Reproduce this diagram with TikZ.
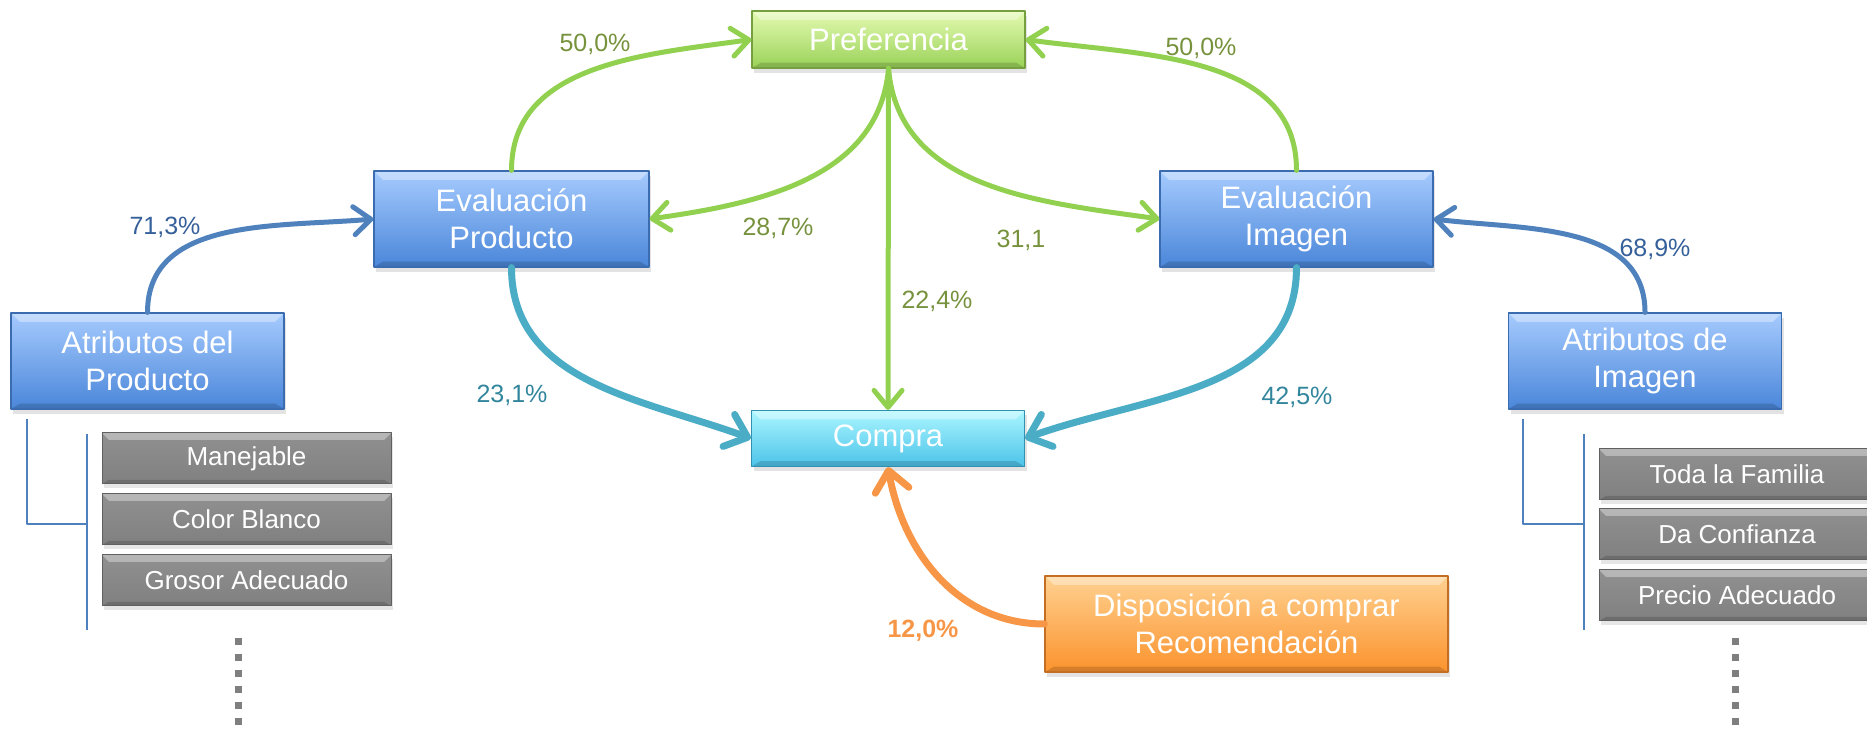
\documentclass[tikz,border=0pt]{standalone}
\usepackage{fontspec}
\setmainfont{Liberation Sans}
\usetikzlibrary{arrows.meta,shadows}
\definecolor{MapaBlueTop}{HTML}{A6CBFE}
\definecolor{MapaBlueBot}{HTML}{4A86D9}
\definecolor{MapaBlueEdge}{HTML}{3C6CB0}
\definecolor{MapaGreenTop}{HTML}{E4FAB2}
\definecolor{MapaGreenBot}{HTML}{9AD258}
\definecolor{MapaGreenEdge}{HTML}{76A040}
\definecolor{MapaCyanTop}{HTML}{ABF6FF}
\definecolor{MapaCyanBot}{HTML}{4CC3E9}
\definecolor{MapaCyanEdge}{HTML}{3090B0}
\definecolor{MapaOrangeTop}{HTML}{FFD190}
\definecolor{MapaOrangeBot}{HTML}{FB932E}
\definecolor{MapaOrangeEdge}{HTML}{C46E24}
\definecolor{MapaGrayTop}{HTML}{909090}
\definecolor{MapaGrayBot}{HTML}{808080}
\definecolor{MapaGrayEdge}{HTML}{606060}
\definecolor{MapaLineGreen}{HTML}{92D050}
\definecolor{MapaLineBlue}{HTML}{4F81BD}
\definecolor{MapaLineTeal}{HTML}{4BACC6}
\definecolor{MapaLineOrange}{HTML}{F79646}
\definecolor{MapaTextGreen}{HTML}{76923C}
\definecolor{MapaTextBlue}{HTML}{35609A}
\definecolor{MapaTextTeal}{HTML}{31859C}
\definecolor{MapaDots}{HTML}{7F7F7F}
\tikzset{
    mapa/diagram/.style={x=1pt, y=1pt, line join=round},
    mapa/bevel/.style={
        path picture={
            \fill[white, opacity=0.35]
                (path picture bounding box.north west) -- (path picture bounding box.north east)
                -- ([xshift=-#1, yshift=-#1]path picture bounding box.north east)
                -- ([xshift=#1, yshift=-#1]path picture bounding box.north west) -- cycle;
            \fill[black, opacity=0.15]
                (path picture bounding box.south west) -- (path picture bounding box.south east)
                -- ([xshift=-#1, yshift=0.6*#1]path picture bounding box.south east)
                -- ([xshift=#1, yshift=0.6*#1]path picture bounding box.south west) -- cycle;
        }
    },
    mapa/box/.style={
        rectangle, align=center, text=white, inner sep=0pt,
        font=\fontsize{31}{37}\selectfont,
        minimum width=273pt, minimum height=96pt, line width=1.2pt,
        drop shadow={opacity=0.22, shadow xshift=2pt, shadow yshift=-5pt},
        mapa/bevel=9pt
    },
    mapa/blue box/.style={mapa/box, top color=MapaBlueTop, bottom color=MapaBlueBot, draw=MapaBlueEdge},
    mapa/green box/.style={mapa/box, top color=MapaGreenTop, bottom color=MapaGreenBot, draw=MapaGreenEdge},
    mapa/cyan box/.style={mapa/box, top color=MapaCyanTop, bottom color=MapaCyanBot, draw=MapaCyanEdge},
    mapa/orange box/.style={mapa/box, top color=MapaOrangeTop, bottom color=MapaOrangeBot, draw=MapaOrangeEdge},
    mapa/item/.style={
        rectangle, text=white, inner sep=0pt,
        font=\fontsize{26}{31}\selectfont,
        minimum width=289pt, minimum height=51pt, line width=1pt,
        top color=MapaGrayTop, bottom color=MapaGrayBot, draw=MapaGrayEdge,
        drop shadow={opacity=0.2, shadow xshift=2pt, shadow yshift=-4pt},
        mapa/bevel=7pt
    },
    mapa/link/.style={line cap=round, -{Straight Barb[length=17pt, width=28pt, round]}},
    mapa/green/.style={mapa/link, draw=MapaLineGreen, line width=5pt},
    mapa/blue/.style={mapa/link, draw=MapaLineBlue, line width=5pt},
    mapa/teal/.style={mapa/link, draw=MapaLineTeal, line width=7pt,
        -{Straight Barb[length=20pt, width=34pt, round]}},
    mapa/orange/.style={mapa/link, draw=MapaLineOrange, line width=7pt,
        -{Straight Barb[length=20pt, width=34pt, round]}},
    mapa/pct/.style={inner sep=0pt, font=\fontsize{25}{30}\selectfont},
    mapa/pct green/.style={mapa/pct, text=MapaTextGreen},
    mapa/pct blue/.style={mapa/pct, text=MapaTextBlue},
    mapa/pct teal/.style={mapa/pct, text=MapaTextTeal},
    mapa/pct orange/.style={mapa/pct, text=MapaLineOrange, font=\fontsize{25}{30}\selectfont\bfseries},
    mapa/bracket/.style={draw=MapaLineBlue, line width=1.6pt},
    mapa/dots/.style={draw=MapaDots, line width=7pt, dash pattern=on 7pt off 9pt}
}
\begin{document}
\begin{tikzpicture}[mapa/diagram]
    \useasboundingbox (0,0) rectangle (1867,730);

    \node[mapa/green box, minimum height=57pt] (pref) at (888.5,690.5) {Preferencia};
    \node[mapa/blue box, minimum width=275pt] (evprod) at (511.5,511) {Evaluación\\Producto};
    \node[mapa/blue box] (evimg) at (1296.5,511) {Evaluación\\Imagen};
    \node[mapa/blue box] (atprod) at (147.5,369) {Atributos del\\Producto};
    \node[mapa/blue box] (atimg) at (1645,369) {Atributos de\\Imagen};
    \node[mapa/cyan box, minimum height=56pt] (compra) at (888,291.5) {Compra};
    \node[mapa/orange box, minimum width=403pt] (disp) at (1246.5,106) {Disposición a comprar\\Recomendación};

    \node[mapa/item] (manejable) at (246.5,271.5) {Manejable};
    \node[mapa/item] (blanco) at (246.5,210.5) {Color Blanco};
    \node[mapa/item] (grosor) at (246.5,149.5) {Grosor Adecuado};
    \node[mapa/item, minimum width=276pt] (familia) at (1737,255.5) {Toda la Familia};
    \node[mapa/item, minimum width=276pt] (confianza) at (1737,195.5) {Da Confianza};
    \node[mapa/item, minimum width=276pt] (precio) at (1737,134.5) {Precio Adecuado};

    \draw[mapa/bracket] (27,311) -- (27,206) -- (87,206)
                        (87,296) -- (87,100);
    \draw[mapa/bracket] (1523,311) -- (1523,206) -- (1584,206)
                        (1584,296) -- (1584,100);
    \draw[mapa/dots] (238,92) -- (238,0);
    \draw[mapa/dots] (1735,92) -- (1735,0);

    \draw[mapa/green] (evprod.north) to[out=90, in=188] (pref.west);
    \draw[mapa/green] (evimg.north) to[out=90, in=-8] (pref.east);
    \draw[mapa/green] (pref.south) to[out=-95, in=8] (evprod.east);
    \draw[mapa/green] (pref.south) to[out=-85, in=172] (evimg.west);
    \draw[mapa/green] (pref.south) -- (compra.north);
    \draw[mapa/teal] (evprod.south) to[out=-90, in=160] (compra.west);
    \draw[mapa/teal] (evimg.south) to[out=-90, in=20] (compra.east);
    \draw[mapa/blue] (atprod.north) to[out=90, in=185] (evprod.west);
    \draw[mapa/blue] (atimg.north) to[out=90, in=-7] (evimg.east);
    \draw[mapa/orange] (disp.west) to[out=180, in=-80] (compra.south);

    \node[mapa/pct green] (p50a) at (595,686) {50,0\%};
    \node[mapa/pct green] (p50b) at (1201,682) {50,0\%};
    \node[mapa/pct green] (p287) at (778,502) {28,7\%};
    \node[mapa/pct green] (p311) at (1021,490) {31,1};
    \node[mapa/pct green] (p224) at (937,429) {22,4\%};
    \node[mapa/pct blue] (p713) at (165,503) {71,3\%};
    \node[mapa/pct blue] (p689) at (1655,481) {68,9\%};
    \node[mapa/pct teal] (p231) at (512,335) {23,1\%};
    \node[mapa/pct teal] (p425) at (1297,333) {42,5\%};
    \node[mapa/pct orange] (p120) at (923,99) {12,0\%};
\end{tikzpicture}
\end{document}
